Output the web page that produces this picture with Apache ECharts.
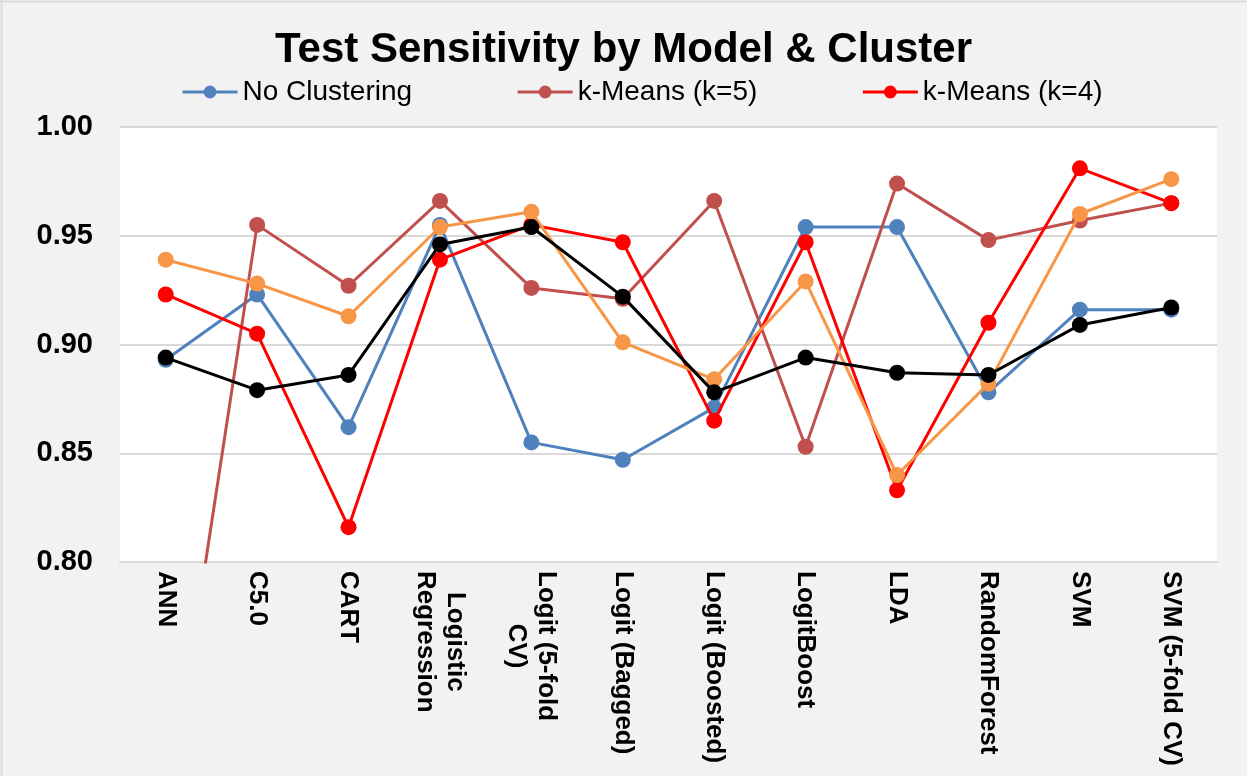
<!DOCTYPE html>
<html>
<head>
<meta charset="utf-8">
<script src="https://cdn.jsdelivr.net/npm/echarts@6/dist/echarts.min.js"></script>
<style>
  html, body { margin: 0; padding: 0; background: #F2F2F2; }
  #chart { width: 1247px; height: 776px; }
</style>
</head>
<body>
<div id="chart"></div>
<script>
// Models on the category axis
const categories = ['ANN', 'C5.0', 'CART', 'Logistic\nRegression', 'Logit (5-fold\nCV)',
  'Logit (Bagged)', 'Logit (Boosted)', 'LogitBoost', 'LDA', 'RandomForest', 'SVM', 'SVM (5-fold CV)'];

// Test sensitivity per model
const noClustering = [0.893, 0.923, 0.862, 0.955, 0.855, 0.847, 0.871, 0.954, 0.954, 0.878, 0.916, 0.916];
const kMeans5      = [0.680, 0.955, 0.927, 0.966, 0.926, 0.921, 0.966, 0.853, 0.974, 0.948, 0.957, 0.965];
const kMeans4      = [0.923, 0.905, 0.816, 0.939, 0.955, 0.947, 0.865, 0.947, 0.833, 0.910, 0.981, 0.965];
const kMeans3      = [0.939, 0.928, 0.913, 0.954, 0.961, 0.901, 0.884, 0.929, 0.840, 0.882, 0.960, 0.976];
const kMeans2      = [0.894, 0.879, 0.886, 0.946, 0.954, 0.922, 0.878, 0.894, 0.887, 0.886, 0.909, 0.917];

// Value axis ticks
const yMin = 0.80, yMax = 1.00, yStep = 0.05;

const FONT = "'Liberation Sans', Arial, Helvetica, sans-serif";

function lineSeries(name, data, color, z) {
  return {
    name: name,
    type: 'line',
    data: data,
    z: z,
    symbol: 'circle',
    symbolSize: 16,
    lineStyle: { color: color, width: 3 },
    itemStyle: { color: color },
    emphasis: { disabled: true },
    animation: false
  };
}

const chart = echarts.init(document.getElementById('chart'), null, { renderer: 'canvas' });
chart.setOption({
  backgroundColor: '#F2F2F2',
  textStyle: { fontFamily: FONT },
  title: {
    text: 'Test Sensitivity by Model & Cluster',
    left: 'center',
    top: 24,
    textStyle: { fontFamily: FONT, fontSize: 42, fontWeight: 'bold', color: '#000' }
  },
  legend: {
    data: ['No Clustering', 'k-Means (k=5)', 'k-Means (k=4)'],
    left: 176,
    top: 73,
    itemWidth: 55,
    itemHeight: 16,
    itemGap: 104,
    lineStyle: { width: 3 },
    textStyle: { fontFamily: FONT, fontSize: 28, color: '#000' }
  },
  grid: {
    left: 120, right: 30, top: 127, bottom: 214,
    show: true, backgroundColor: '#FFFFFF', borderWidth: 0
  },
  xAxis: {
    type: 'category',
    data: categories,
    boundaryGap: true,
    axisLine: { show: true, lineStyle: { color: '#D9D9D9', width: 2 } },
    axisTick: { show: false },
    axisLabel: {
      interval: 0,
      rotate: -90,
      margin: 9,
      formatter: function (v) {
        return v.split('\n').map(function (s) { return '{c|' + s + '}'; }).join('\n');
      },
      rich: {
        c: { fontFamily: FONT, fontSize: 26, fontWeight: 'bold', color: '#000', align: 'center', lineHeight: 30 }
      }
    }
  },
  yAxis: {
    type: 'value',
    min: yMin,
    max: yMax,
    interval: yStep,
    axisLine: { show: false },
    axisTick: { show: false },
    splitLine: { show: true, lineStyle: { color: '#D9D9D9', width: 2 } },
    axisLabel: {
      margin: 27,
      fontFamily: FONT,
      fontSize: 29,
      fontWeight: 'bold',
      color: '#000',
      formatter: function (v) { return v.toFixed(2); }
    }
  },
  series: [
    lineSeries('No Clustering', noClustering, '#4F81BD', 2),
    lineSeries('k-Means (k=5)', kMeans5, '#C0504D', 3),
    lineSeries('k-Means (k=4)', kMeans4, '#FF0000', 4),
    lineSeries('k-Means (k=3)', kMeans3, '#F79646', 5),
    lineSeries('k-Means (k=2)', kMeans2, '#000000', 6)
  ],
  graphic: [
    // thin frame along the top and left edges of the chart area
    { type: 'line', shape: { x1: 0, y1: 1.5, x2: 1247, y2: 1.5 }, style: { stroke: '#D9D9D9', lineWidth: 2 }, silent: true },
    { type: 'line', shape: { x1: 1.5, y1: 0, x2: 1.5, y2: 776 }, style: { stroke: '#D9D9D9', lineWidth: 2 }, silent: true }
  ]
});
</script>
</body>
</html>
